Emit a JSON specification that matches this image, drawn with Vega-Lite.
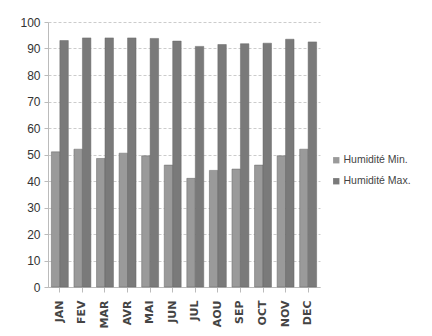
{
  "$schema": "https://vega.github.io/schema/vega-lite/v6.json",
  "width": 272,
  "height": 265,
  "autosize": {"type": "none"},
  "padding": {"left": 48, "top": 22, "right": 112, "bottom": 49},
  "background": "white",
  "data": {"values": [
    {"mois": "JAN", "serie": "Humidité Min.", "v": 51},
    {"mois": "FEV", "serie": "Humidité Min.", "v": 52},
    {"mois": "MAR", "serie": "Humidité Min.", "v": 48.5},
    {"mois": "AVR", "serie": "Humidité Min.", "v": 50.5},
    {"mois": "MAI", "serie": "Humidité Min.", "v": 49.5},
    {"mois": "JUN", "serie": "Humidité Min.", "v": 46},
    {"mois": "JUL", "serie": "Humidité Min.", "v": 41},
    {"mois": "AOU", "serie": "Humidité Min.", "v": 44},
    {"mois": "SEP", "serie": "Humidité Min.", "v": 44.5},
    {"mois": "OCT", "serie": "Humidité Min.", "v": 46},
    {"mois": "NOV", "serie": "Humidité Min.", "v": 49.5},
    {"mois": "DEC", "serie": "Humidité Min.", "v": 52},
    {"mois": "JAN", "serie": "Humidité Max.", "v": 93},
    {"mois": "FEV", "serie": "Humidité Max.", "v": 94},
    {"mois": "MAR", "serie": "Humidité Max.", "v": 94},
    {"mois": "AVR", "serie": "Humidité Max.", "v": 94},
    {"mois": "MAI", "serie": "Humidité Max.", "v": 93.8},
    {"mois": "JUN", "serie": "Humidité Max.", "v": 92.8},
    {"mois": "JUL", "serie": "Humidité Max.", "v": 90.8},
    {"mois": "AOU", "serie": "Humidité Max.", "v": 91.5},
    {"mois": "SEP", "serie": "Humidité Max.", "v": 91.8},
    {"mois": "OCT", "serie": "Humidité Max.", "v": 92},
    {"mois": "NOV", "serie": "Humidité Max.", "v": 93.5},
    {"mois": "DEC", "serie": "Humidité Max.", "v": 92.5}
  ]},
  "mark": {"type": "bar", "stroke": "#666", "strokeWidth": 0.5},
  "encoding": {
    "x": {
      "field": "mois", "type": "nominal", "sort": null,
      "scale": {"paddingInner": 0.25, "paddingOuter": 0.15},
      "axis": {"title": null, "labelAngle": -90, "labelFont": "DejaVu Sans", "labelFontSize": 11, "labelFontWeight": "bold", "labelColor": "#444", "labelPadding": 8, "domainColor": "#bbb", "tickColor": "#bbb", "grid": false}
    },
    "xOffset": {"field": "serie", "type": "nominal", "sort": ["Humidité Min.", "Humidité Max."]},
    "y": {
      "field": "v", "type": "quantitative",
      "scale": {"domain": [0, 100]},
      "axis": {"title": null, "values": [0,10,20,30,40,50,60,70,80,90,100], "labelFont": "Liberation Sans", "labelFontSize": 12, "labelColor": "#333", "gridColor": "#ccc", "gridDash": [3, 2], "domainColor": "#bbb", "tickColor": "#bbb", "tickSize": 4, "labelPadding": 4}
    },
    "color": {
      "field": "serie", "type": "nominal", "sort": ["Humidité Min.", "Humidité Max."],
      "scale": {"range": ["#9a9a9a", "#7a7a7a"]},
      "legend": {"title": null, "orient": "none", "legendX": 283, "legendY": 133, "symbolType": "square", "symbolSize": 40, "symbolStrokeWidth": 0, "labelFont": "Liberation Sans", "labelFontSize": 10.5, "labelColor": "#444", "rowPadding": 10, "labelOffset": 2}
    }
  },
  "config": {"view": {"stroke": null}}
}
